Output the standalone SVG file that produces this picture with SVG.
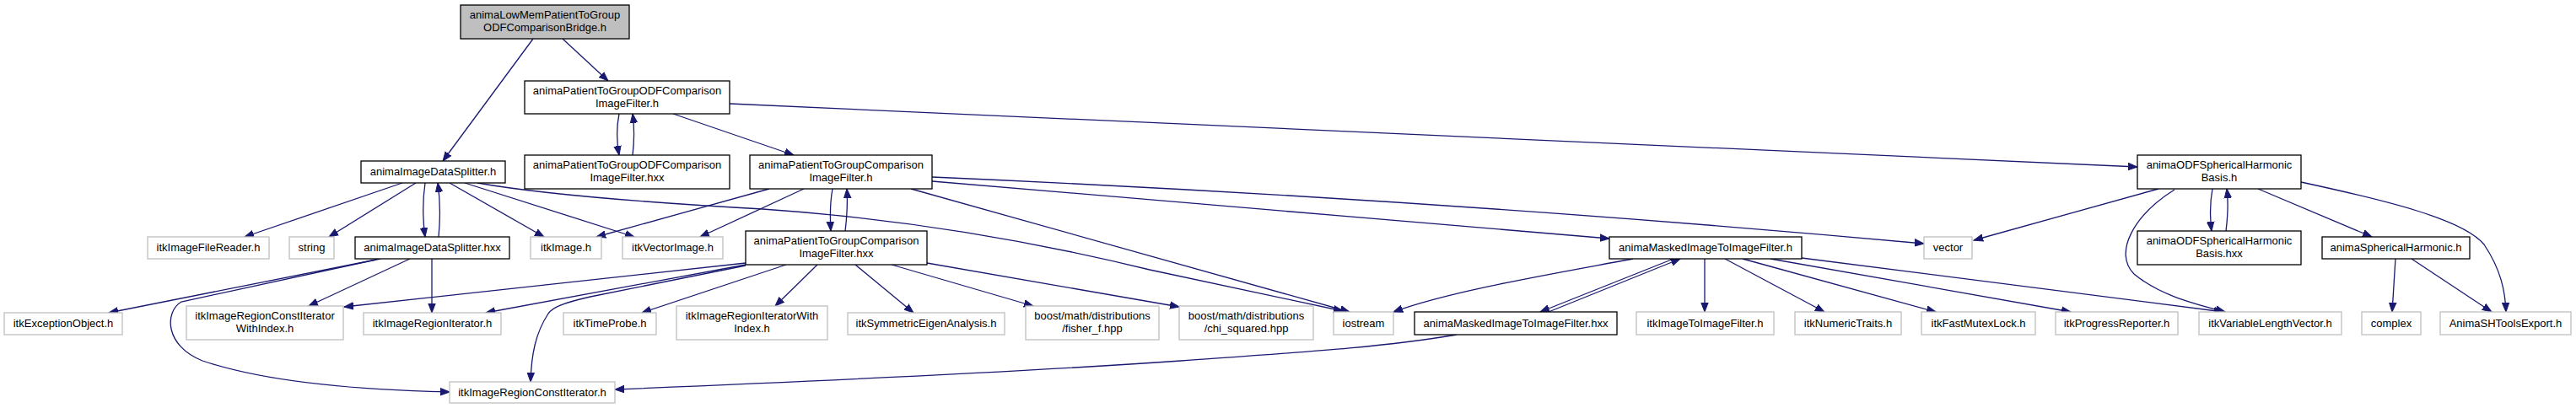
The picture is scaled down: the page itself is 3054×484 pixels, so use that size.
<svg xmlns="http://www.w3.org/2000/svg" width="3054" height="484" viewBox="0 0 3054 484">
<style>
.doc{fill:#ffffff;stroke:#000000;stroke-width:1.3}
.ext{fill:#ffffff;stroke:#bfbfbf;stroke-width:1.3}
.root{fill:#bfbfbf;stroke:#000000;stroke-width:1.3}
text{font-family:"Liberation Sans",Arial,Helvetica,sans-serif;font-size:13px;fill:#000000;text-anchor:middle}
#edges path{fill:none;stroke:#191970;stroke-width:1.3;marker-end:url(#ah)}
</style>
<defs>
<marker id="ah" markerUnits="userSpaceOnUse" markerWidth="12" markerHeight="10" viewBox="0 0 12 10" refX="11" refY="5" orient="auto">
<path d="M0,0.8 L11,5 L0,9.2 z" fill="#191970" stroke="#191970" stroke-width="1"/>
</marker>
</defs>
<rect width="3054" height="484" fill="#ffffff"/>
<g id="edges">
<path d="M632,46 L525,191"/>
<path d="M667,46 L721,96"/>
<path d="M734,135 C731,150 731,168 734,184"/>
<path d="M750,184 C752,168 752,150 750,135"/>
<path d="M798,135 L941,184"/>
<path d="M865,123 L2534,198"/>
<path d="M477,217 L290,281"/>
<path d="M493,217 L390,281"/>
<path d="M504,217 C501,238 501,260 504,281"/>
<path d="M520,281 C522,260 522,238 519,217"/>
<path d="M533,217 L645,281"/>
<path d="M551,217 L752,281"/>
<path d="M566,217 C640,230 760,240 904,248 C1050,258 1200,280 1363,320 L1592,369"/>
<path d="M451,307 L129,371"/>
<path d="M446,308 L215,358 C195,370 195,410 240,428 C320,455 440,463 533,465"/>
<path d="M486,307 L366,363"/>
<path d="M512,307 L512,371"/>
<path d="M987,224 C984,240 984,258 985,274"/>
<path d="M1002,274 C1004,258 1005,240 1004,224"/>
<path d="M912,224 L707,281"/>
<path d="M953,224 L830,281"/>
<path d="M1080,224 L1600,370"/>
<path d="M1105,215 L1908,283"/>
<path d="M1105,210 Q1700,236 2281,289"/>
<path d="M884,312 L408,364"/>
<path d="M884,314 L576,371"/>
<path d="M884,315 L700,352 C665,360 655,365 650,372 C635,395 630,420 629,453"/>
<path d="M932,314 L761,371"/>
<path d="M969,314 L919,363"/>
<path d="M1014,314 L1083,371"/>
<path d="M1057,314 L1225,363"/>
<path d="M1099,312 L1398,364"/>
<path d="M1727,397 C1640,412 1540,418 1400,428 C1200,442 900,455 729,462"/>
<path d="M1936,307 C1840,325 1720,345 1652,370"/>
<path d="M1984,307 L1826,370"/>
<path d="M1836,370 L1992,307"/>
<path d="M2021,307 L2021,370"/>
<path d="M2045,307 L2163,370"/>
<path d="M2066,307 L2295,370"/>
<path d="M2099,307 L2455,370"/>
<path d="M2136,306 L2636,370"/>
<path d="M2559,224 L2340,285"/>
<path d="M2578,225 C2530,255 2505,300 2530,325 C2560,350 2600,360 2638,370"/>
<path d="M2623,224 C2620,240 2620,258 2622,274"/>
<path d="M2639,274 C2641,258 2642,240 2640,224"/>
<path d="M2677,224 L2812,281"/>
<path d="M2728,216 C2830,238 2920,260 2945,290 C2965,320 2970,345 2971,370"/>
<path d="M2840,307 L2836,370"/>
<path d="M2859,307 L2954,370"/>
</g>
<g id="n_root"><rect class="root" x="546" y="6" width="200" height="40"/><text x="646" y="22">animaLowMemPatientToGroup</text><text x="646" y="37">ODFComparisonBridge.h</text></g>
<g id="n_odf_h"><rect class="doc" x="622" y="96" width="243" height="39"/><text x="743.5" y="111.5">animaPatientToGroupODFComparison</text><text x="743.5" y="126.5">ImageFilter.h</text></g>
<g id="n_split_h"><rect class="doc" x="428" y="191" width="171" height="26"/><text x="513.5" y="208">animaImageDataSplitter.h</text></g>
<g id="n_odf_hxx"><rect class="doc" x="622" y="184" width="243" height="40"/><text x="743.5" y="200">animaPatientToGroupODFComparison</text><text x="743.5" y="215">ImageFilter.hxx</text></g>
<g id="n_ptg_h"><rect class="doc" x="889" y="184" width="216" height="40"/><text x="997" y="200">animaPatientToGroupComparison</text><text x="997" y="215">ImageFilter.h</text></g>
<g id="n_shb_h"><rect class="doc" x="2534" y="184" width="194" height="40"/><text x="2631" y="200">animaODFSphericalHarmonic</text><text x="2631" y="215">Basis.h</text></g>
<g id="n_filereader"><rect class="ext" x="175" y="281" width="144" height="26"/><text x="247" y="298">itkImageFileReader.h</text></g>
<g id="n_string"><rect class="ext" x="343" y="281" width="53" height="26"/><text x="369.5" y="298">string</text></g>
<g id="n_split_hxx"><rect class="doc" x="421" y="281" width="183" height="26"/><text x="512.5" y="298">animaImageDataSplitter.hxx</text></g>
<g id="n_itkimage"><rect class="ext" x="629" y="281" width="84" height="26"/><text x="671" y="298">itkImage.h</text></g>
<g id="n_vecimg"><rect class="ext" x="738" y="281" width="119" height="26"/><text x="797.5" y="298">itkVectorImage.h</text></g>
<g id="n_ptg_hxx"><rect class="doc" x="884" y="274" width="215" height="40"/><text x="991.5" y="290">animaPatientToGroupComparison</text><text x="991.5" y="305">ImageFilter.hxx</text></g>
<g id="n_vector"><rect class="ext" x="2281" y="281" width="57" height="26"/><text x="2309.5" y="298">vector</text></g>
<g id="n_masked_h"><rect class="doc" x="1908" y="281" width="228" height="26"/><text x="2022" y="298">animaMaskedImageToImageFilter.h</text></g>
<g id="n_shb_hxx"><rect class="doc" x="2534" y="274" width="194" height="40"/><text x="2631" y="290">animaODFSphericalHarmonic</text><text x="2631" y="305">Basis.hxx</text></g>
<g id="n_sph"><rect class="doc" x="2753" y="281" width="175" height="26"/><text x="2840.5" y="298">animaSphericalHarmonic.h</text></g>
<g id="n_exc"><rect class="ext" x="5" y="371" width="140" height="26"/><text x="75" y="388">itkExceptionObject.h</text></g>
<g id="n_cwi"><rect class="ext" x="221" y="363" width="186" height="40"/><text x="314" y="379">itkImageRegionConstIterator</text><text x="314" y="394">WithIndex.h</text></g>
<g id="n_rit"><rect class="ext" x="431" y="371" width="163" height="26"/><text x="512.5" y="388">itkImageRegionIterator.h</text></g>
<g id="n_tp"><rect class="ext" x="668" y="371" width="110" height="26"/><text x="723" y="388">itkTimeProbe.h</text></g>
<g id="n_riwi"><rect class="ext" x="802" y="363" width="179" height="40"/><text x="891.5" y="379">itkImageRegionIteratorWith</text><text x="891.5" y="394">Index.h</text></g>
<g id="n_sym"><rect class="ext" x="1005" y="371" width="186" height="26"/><text x="1098" y="388">itkSymmetricEigenAnalysis.h</text></g>
<g id="n_fisher"><rect class="ext" x="1216" y="363" width="158" height="40"/><text x="1295" y="379">boost/math/distributions</text><text x="1295" y="394">/fisher_f.hpp</text></g>
<g id="n_chi"><rect class="ext" x="1398" y="363" width="159" height="40"/><text x="1477.5" y="379">boost/math/distributions</text><text x="1477.5" y="394">/chi_squared.hpp</text></g>
<g id="n_iostream"><rect class="ext" x="1581" y="370" width="71" height="27"/><text x="1616.5" y="388">iostream</text></g>
<g id="n_masked_hxx"><rect class="doc" x="1677" y="370" width="240" height="27"/><text x="1797" y="388">animaMaskedImageToImageFilter.hxx</text></g>
<g id="n_i2i"><rect class="ext" x="1940" y="370" width="163" height="27"/><text x="2021.5" y="388">itkImageToImageFilter.h</text></g>
<g id="n_num"><rect class="ext" x="2128" y="370" width="126" height="27"/><text x="2191" y="388">itkNumericTraits.h</text></g>
<g id="n_fml"><rect class="ext" x="2278" y="370" width="135" height="27"/><text x="2345.5" y="388">itkFastMutexLock.h</text></g>
<g id="n_pr"><rect class="ext" x="2437" y="370" width="145" height="27"/><text x="2509.5" y="388">itkProgressReporter.h</text></g>
<g id="n_vlv"><rect class="ext" x="2607" y="370" width="169" height="27"/><text x="2691.5" y="388">itkVariableLengthVector.h</text></g>
<g id="n_complex"><rect class="ext" x="2800" y="370" width="70" height="27"/><text x="2835" y="388">complex</text></g>
<g id="n_shtools"><rect class="ext" x="2893" y="370" width="155" height="27"/><text x="2970.5" y="388">AnimaSHToolsExport.h</text></g>
<g id="n_rci"><rect class="ext" x="533" y="453" width="196" height="25"/><text x="631" y="470">itkImageRegionConstIterator.h</text></g>
</svg>
